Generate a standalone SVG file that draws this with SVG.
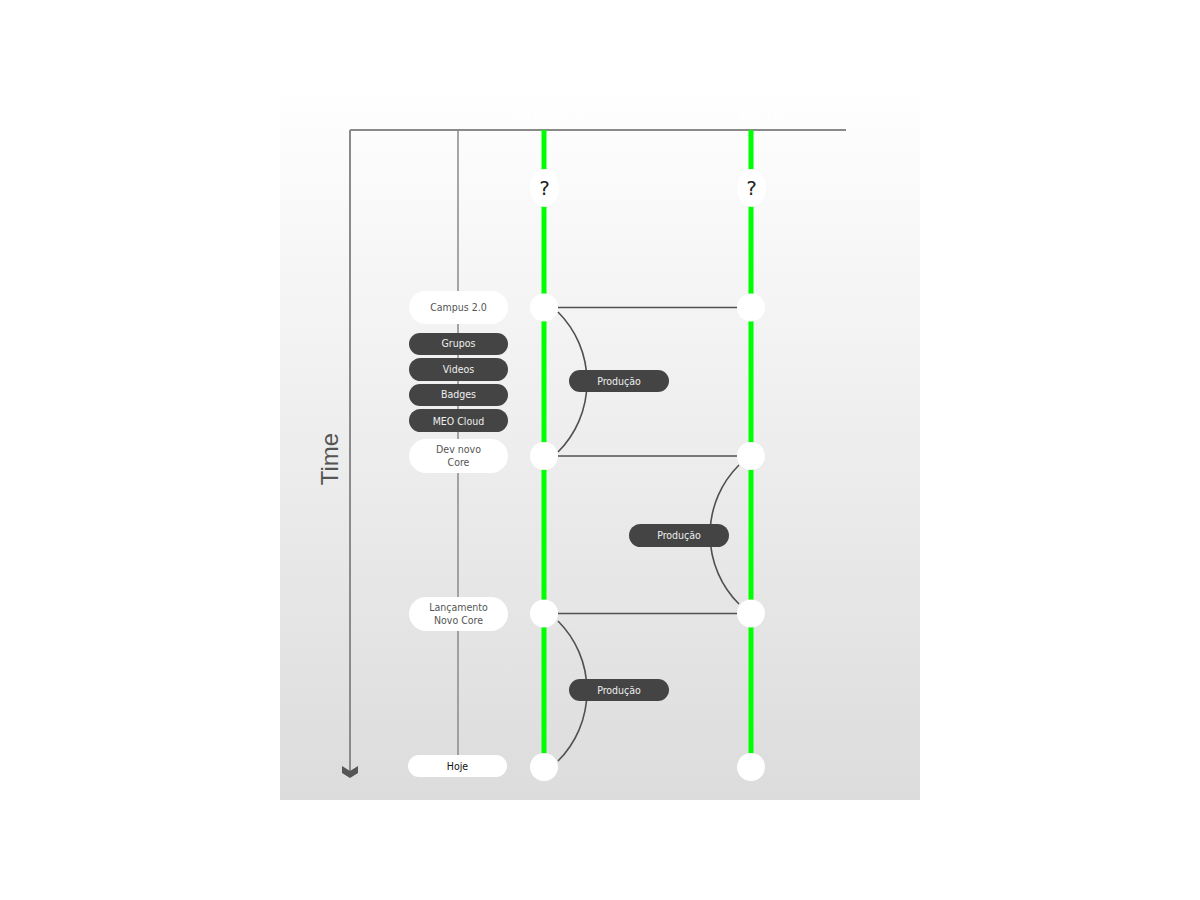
<svg xmlns="http://www.w3.org/2000/svg" width="1200" height="900" viewBox="0 0 1200 900">
<defs>
<linearGradient id="bg" x1="0" y1="0" x2="0" y2="1">
<stop offset="0" stop-color="#ffffff"/>
<stop offset="1" stop-color="#dcdcdc"/>
</linearGradient>
<style>
.axis{stroke:#8a8a8a;fill:none}
.green{stroke:#00ff00;stroke-width:5;fill:none}
.conn{stroke:#505050;stroke-width:1.6;fill:none}
.dot{fill:#ffffff}
.wpill{fill:#ffffff}
.dpill{fill:#444444}
.t{font-family:"DejaVu Sans Condensed","DejaVu Sans",Verdana,sans-serif;font-size:10.5px;text-anchor:middle}
.tw{fill:#555555}
.td{fill:#eeeeee}
.head{font-family:"Liberation Sans",Arial,sans-serif;font-size:22px;fill:#ffffff;text-anchor:middle}
</style>
</defs>
<rect x="280" y="85" width="640" height="715" fill="url(#bg)"/>
<g id="axes">
<line class="axis" x1="350" y1="130" x2="846" y2="130" stroke-width="2"/>
<line class="axis" x1="350" y1="130" x2="350" y2="772" stroke-width="2"/>
<path d="M342,766 L350,771 L358,766 L358,773 L350,778 L342,773 Z" fill="#555555"/>
<line class="axis" x1="458" y1="130" x2="458" y2="760" stroke-width="1.5"/>
<text x="329" y="459" transform="rotate(-90 329 459)" font-family="Liberation Sans, Arial, sans-serif" font-size="24" fill="#555555" text-anchor="middle" dominant-baseline="central">Time</text>
</g>
<g id="headers">
<text class="head" x="546" y="119">Branch</text>
<text class="head" x="755" y="119">Trunk</text>
</g>
<g id="lanes">
<line class="green" x1="544" y1="130" x2="544" y2="760"/>
<line class="green" x1="751" y1="130" x2="751" y2="760"/>
</g>
<g id="connectors">
<line class="conn" x1="558" y1="307.5" x2="738" y2="307.5"/>
<line class="conn" x1="558" y1="456" x2="738" y2="456"/>
<line class="conn" x1="558" y1="613.5" x2="738" y2="613.5"/>
<path class="conn" d="M558,312 A99,99 0 0 1 558,452"/>
<path class="conn" d="M739,465 A98,98 0 0 0 739,604"/>
<path class="conn" d="M558,621 A99,99 0 0 1 558,761"/>
</g>
<g id="q1"><ellipse class="dot" cx="544.5" cy="188" rx="14.5" ry="19"/><text x="544.5" y="195" font-family="DejaVu Sans, sans-serif" font-size="20" fill="#222222" text-anchor="middle">?</text></g>
<g id="q2"><ellipse class="dot" cx="751.5" cy="188" rx="14.5" ry="19"/><text x="751.5" y="195" font-family="DejaVu Sans, sans-serif" font-size="20" fill="#222222" text-anchor="middle">?</text></g>
<g id="b1"><circle class="dot" cx="544" cy="307.5" r="14"/></g>
<g id="t1"><circle class="dot" cx="751" cy="307.5" r="14"/></g>
<g id="b2"><circle class="dot" cx="544" cy="456" r="14"/></g>
<g id="t2"><circle class="dot" cx="751" cy="456" r="14"/></g>
<g id="b3"><circle class="dot" cx="544" cy="613.5" r="14"/></g>
<g id="t3"><circle class="dot" cx="751" cy="613.5" r="14"/></g>
<g id="b4"><circle class="dot" cx="544" cy="767" r="14"/></g>
<g id="t4"><circle class="dot" cx="751" cy="767" r="14"/></g>
<g id="prod1"><rect class="dpill" x="569" y="370" width="100" height="22" rx="11"/><text class="t td" x="619" y="385">Produção</text></g>
<g id="prod2"><rect class="dpill" x="629" y="524" width="100" height="23" rx="11.5"/><text class="t td" x="679" y="539">Produção</text></g>
<g id="prod3"><rect class="dpill" x="569" y="679" width="100" height="22" rx="11"/><text class="t td" x="619" y="694">Produção</text></g>
<g id="campus"><rect class="wpill" x="409" y="291" width="99" height="33" rx="16.5"/><text class="t tw" x="458.5" y="311">Campus 2.0</text></g>
<g id="grupos"><rect class="dpill" x="409" y="333" width="99" height="22" rx="11"/><text class="t td" x="458.5" y="347">Grupos</text></g>
<g id="videos"><rect class="dpill" x="409" y="358" width="99" height="23" rx="11.5"/><text class="t td" x="458.5" y="373">Videos</text></g>
<g id="badges"><rect class="dpill" x="409" y="384" width="99" height="22" rx="11"/><text class="t td" x="458.5" y="398">Badges</text></g>
<g id="meo"><rect class="dpill" x="409" y="409" width="99" height="23" rx="11.5"/><text class="t td" x="458.5" y="425">MEO Cloud</text></g>
<g id="dev"><rect class="wpill" x="409" y="439" width="99" height="34" rx="17"/><text class="t tw" x="458.5" y="453">Dev novo</text><text class="t tw" x="458.5" y="466">Core</text></g>
<g id="lanc"><rect class="wpill" x="409" y="597" width="99" height="34" rx="17"/><text class="t tw" x="458.5" y="611">Lançamento</text><text class="t tw" x="458.5" y="624">Novo Core</text></g>
<g id="hoje"><rect class="wpill" x="408" y="755" width="99" height="22" rx="11"/><text class="t" x="457.5" y="770" fill="#111111">Hoje</text></g>
</svg>
